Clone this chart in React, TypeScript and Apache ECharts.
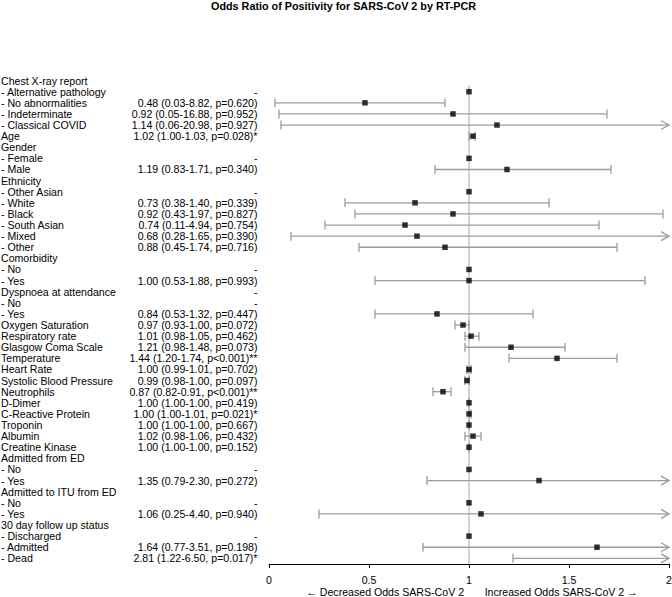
import React, { useEffect, useRef } from "react";
import * as echarts from "echarts";

const chartTitle = "Odds Ratio of Positivity for SARS-CoV 2 by RT-PCR";
const xAxisLabel = "← Decreased Odds SARS-CoV 2       Increased Odds SARS-CoV 2 →";

const labels = [
  "Chest X-ray report",
  "- Alternative pathology",
  "- No abnormalities",
  "- Indeterminate",
  "- Classical COVID",
  "Age",
  "Gender",
  "- Female",
  "- Male",
  "Ethnicity",
  "- Other Asian",
  "- White",
  "- Black",
  "- South Asian",
  "- Mixed",
  "- Other",
  "Comorbidity",
  "- No",
  "- Yes",
  "Dyspnoea at attendance",
  "- No",
  "- Yes",
  "Oxygen Saturation",
  "Respiratory rate",
  "Glasgow Coma Scale",
  "Temperature",
  "Heart Rate",
  "Systolic Blood Pressure",
  "Neutrophils",
  "D-Dimer",
  "C-Reactive Protein",
  "Troponin",
  "Albumin",
  "Creatine Kinase",
  "Admitted from ED",
  "- No",
  "- Yes",
  "Admitted to ITU from ED",
  "- No",
  "- Yes",
  "30 day follow up status",
  "- Discharged",
  "- Admitted",
  "- Dead",
];

const orTexts = [
  "",
  "-",
  "0.48 (0.03-8.82, p=0.620)",
  "0.92 (0.05-16.88, p=0.952)",
  "1.14 (0.06-20.98, p=0.927)",
  "1.02 (1.00-1.03, p=0.028)*",
  "",
  "-",
  "1.19 (0.83-1.71, p=0.340)",
  "",
  "-",
  "0.73 (0.38-1.40, p=0.339)",
  "0.92 (0.43-1.97, p=0.827)",
  "0.74 (0.11-4.94, p=0.754)",
  "0.68 (0.28-1.65, p=0.390)",
  "0.88 (0.45-1.74, p=0.716)",
  "",
  "-",
  "1.00 (0.53-1.88, p=0.993)",
  "-",
  "-",
  "0.84 (0.53-1.32, p=0.447)",
  "0.97 (0.93-1.00, p=0.072)",
  "1.01 (0.98-1.05, p=0.462)",
  "1.21 (0.98-1.48, p=0.073)",
  "1.44 (1.20-1.74, p<0.001)**",
  "1.00 (0.99-1.01, p=0.702)",
  "0.99 (0.98-1.00, p=0.097)",
  "0.87 (0.82-0.91, p<0.001)**",
  "1.00 (1.00-1.00, p=0.419)",
  "1.00 (1.00-1.01, p=0.021)*",
  "1.00 (1.00-1.00, p=0.667)",
  "1.02 (0.98-1.06, p=0.432)",
  "1.00 (1.00-1.00, p=0.152)",
  "",
  "-",
  "1.35 (0.79-2.30, p=0.272)",
  "",
  "-",
  "1.06 (0.25-4.40, p=0.940)",
  "",
  "-",
  "1.64 (0.77-3.51, p=0.198)",
  "2.81 (1.22-6.50, p=0.017)*",
];

// plotted estimates and interval ends as drawn in the figure
const estimates: (number | null)[] = [
  null, 1.0, 0.48, 0.92, 1.14, 1.02, null, 1.0, 1.19, null, 1.0, 0.73, 0.92, 0.68, 0.74, 0.88,
  null, 1.0, 1.0, null, null, 0.84, 0.97, 1.01, 1.21, 1.44, 1.0, 0.99, 0.87, 1.0, 1.0, 1.0,
  1.02, 1.0, null, 1.0, 1.35, null, 1.0, 1.06, null, 1.0, 1.64, 2.81,
];
const lower: (number | null)[] = [
  null, null, 0.03, 0.05, 0.06, 1.0, null, null, 0.83, null, null, 0.38, 0.43, 0.28, 0.11, 0.45,
  null, null, 0.53, null, null, 0.53, 0.93, 0.98, 0.98, 1.2, 0.99, 0.98, 0.82, 1.0, 1.0, 1.0,
  0.98, 1.0, null, null, 0.79, null, null, 0.25, null, null, 0.77, 1.22,
];
const upper: (number | null)[] = [
  null, null, 0.88, 1.69, 2.1, 1.03, null, null, 1.71, null, null, 1.4, 1.97, 1.65, 4.94, 1.74,
  null, null, 1.88, null, null, 1.32, 1.0, 1.05, 1.48, 1.74, 1.01, 1.0, 0.91, 1.0, 1.01, 1.0,
  1.06, 1.0, null, null, 2.3, null, null, 4.4, null, null, 3.51, 6.5,
];

const X_MIN = 0;
const X_MAX = 2;
const FONT = "'Liberation Sans', Arial, Helvetica, sans-serif";
const FS = 10.6;

export default function App() {
  const ref = useRef<HTMLDivElement>(null);

  useEffect(() => {
    if (!ref.current) return;
    const chart = echarts.init(ref.current, undefined, { renderer: "svg" });

    const ciData: number[][] = [];
    labels.forEach((_, i) => {
      const l = lower[i];
      const u = upper[i];
      if (l != null && u != null) ciData.push([l, i, u]);
    });
    const pointData: number[][] = [];
    estimates.forEach((v, i) => {
      if (v != null && v >= X_MIN && v <= X_MAX) pointData.push([v, i]);
    });

    const grey = "#9c9c9c";

    chart.setOption({
      animation: false,
      backgroundColor: "#ffffff",
      textStyle: { fontFamily: FONT },
      title: {
        text: chartTitle,
        left: 211,
        top: 0,
        padding: 0,
        textStyle: { fontSize: 10.8, fontWeight: "bold", color: "#000", fontFamily: FONT },
      },
      graphic: [
        {
          type: "text",
          x: 472,
          y: 591.5,
          style: {
            text: xAxisLabel,
            fill: "#000",
            fontSize: FS,
            fontFamily: FONT,
            textAlign: "center",
            textVerticalAlign: "middle",
          },
        },
      ],
      grid: {
        left: 269,
        right: 3,
        top: 75.05,
        bottom: 33.1,
        containLabel: false,
        outerBoundsMode: "none",
      },
      xAxis: {
        type: "value",
        min: X_MIN,
        max: X_MAX,
        interval: 0.5,
        axisLine: { show: true, lineStyle: { color: "#000", width: 1 } },
        axisTick: { show: true, length: 4, lineStyle: { color: "#000" } },
        splitLine: { show: false },
        axisLabel: { color: "#000", fontSize: FS, margin: 11, fontFamily: FONT },
      },
      yAxis: [
        {
          type: "category",
          inverse: true,
          data: labels,
          axisLine: { show: false },
          axisTick: { show: false },
          splitLine: { show: false },
          axisLabel: {
            interval: 0,
            align: "left",
            margin: 268,
            color: "#000",
            fontSize: FS,
            fontFamily: FONT,
          },
        },
        {
          type: "category",
          inverse: true,
          position: "left",
          data: orTexts,
          axisLine: { show: false },
          axisTick: { show: false },
          splitLine: { show: false },
          axisLabel: {
            interval: 0,
            align: "right",
            margin: 11.5,
            color: "#000",
            fontSize: FS,
            fontFamily: FONT,
          },
        },
      ],
      series: [
        {
          type: "custom",
          name: "reference",
          silent: true,
          data: [[1, 1]],
          renderItem: (params: any, api: any) => {
            const p = api.coord([api.value(0), api.value(1)]);
            const band = api.size([0, 1])[1];
            const cs = params.coordSys;
            return {
              type: "line",
              shape: { x1: p[0], y1: p[1] - band * 0.6, x2: p[0], y2: cs.y + cs.height },
              style: { stroke: "#a8a8a8", lineWidth: 1 },
            };
          },
        },
        {
          type: "custom",
          name: "ci",
          silent: true,
          data: ciData,
          encode: { x: [0, 2], y: 1 },
          renderItem: (params: any, api: any) => {
            const l = api.value(0);
            const y = api.value(1);
            const u = api.value(2);
            const p0 = api.coord([Math.max(l, X_MIN), y]);
            const p1 = api.coord([Math.min(u, X_MAX), y]);
            const cap = 4.5;
            const style = { stroke: grey, lineWidth: 1.3, fill: "none" };
            const children: any[] = [
              { type: "line", shape: { x1: p0[0], y1: p0[1], x2: p1[0], y2: p1[1] }, style },
            ];
            if (l >= X_MIN) {
              children.push({
                type: "line",
                shape: { x1: p0[0], y1: p0[1] - cap, x2: p0[0], y2: p0[1] + cap },
                style,
              });
            }
            if (u > X_MAX) {
              children.push({
                type: "polyline",
                shape: {
                  points: [
                    [p1[0] - 8, p1[1] - 4.5],
                    [p1[0], p1[1]],
                    [p1[0] - 8, p1[1] + 4.5],
                  ],
                },
                style,
              });
            } else {
              children.push({
                type: "line",
                shape: { x1: p1[0], y1: p1[1] - cap, x2: p1[0], y2: p1[1] + cap },
                style,
              });
            }
            return { type: "group", children };
          },
        },
        {
          type: "scatter",
          name: "estimate",
          data: pointData,
          symbol: "rect",
          symbolSize: 5.5,
          itemStyle: { color: "#000" },
          silent: true,
        },
      ],
    });

    return () => {
      chart.dispose();
    };
  }, []);

  return (
    <div
      ref={ref}
      style={{ position: "absolute", left: 0, top: 0, width: 672, height: 597 }}
    />
  );
}
